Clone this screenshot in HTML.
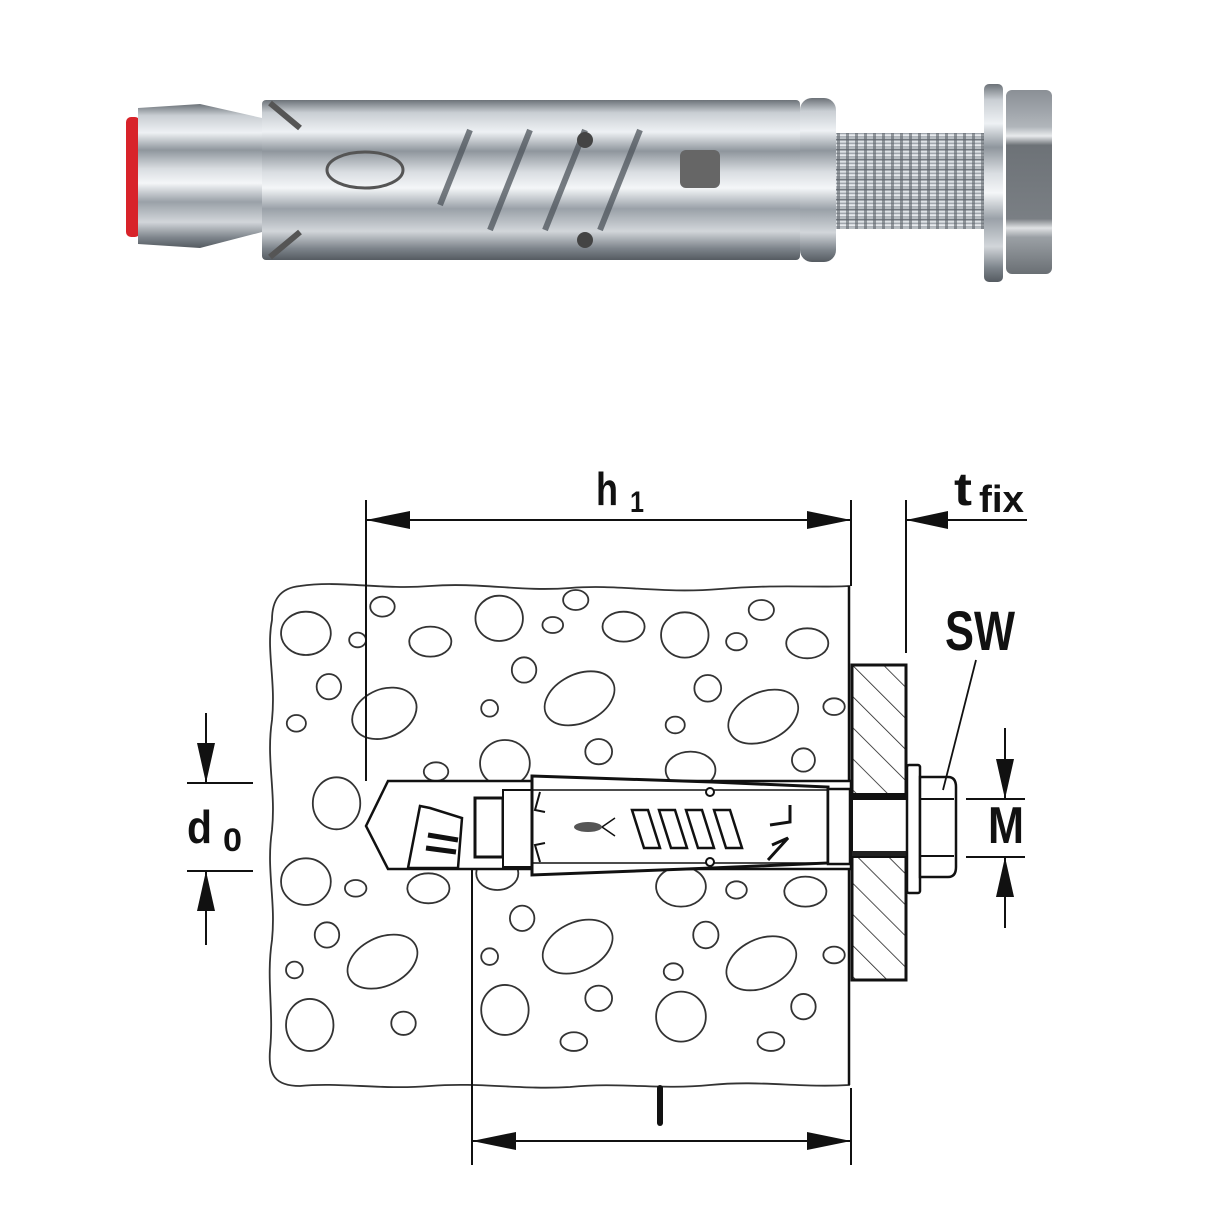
<!DOCTYPE html>
<html><head><meta charset="utf-8"><style>
html,body{margin:0;padding:0;background:#fff}
svg{display:block}
text{font-family:"Liberation Sans",sans-serif;font-weight:bold;fill:#111}
</style></head><body>
<svg width="1214" height="1214" viewBox="0 0 1214 1214" xmlns="http://www.w3.org/2000/svg">
<defs>
<linearGradient id="met" x1="0" y1="0" x2="0" y2="1">
<stop offset="0" stop-color="#6c7278"/><stop offset="0.08" stop-color="#c9ced3"/><stop offset="0.2" stop-color="#eef1f4"/><stop offset="0.32" stop-color="#8f969d"/><stop offset="0.45" stop-color="#d9dde1"/><stop offset="0.55" stop-color="#f4f6f8"/><stop offset="0.68" stop-color="#9aa1a8"/><stop offset="0.82" stop-color="#d2d6da"/><stop offset="0.93" stop-color="#7c838a"/><stop offset="1" stop-color="#555b61"/>
</linearGradient>
<linearGradient id="nut" x1="0" y1="0" x2="0" y2="1">
<stop offset="0" stop-color="#8a8f95"/><stop offset="0.2" stop-color="#b0b5ba"/><stop offset="0.25" stop-color="#e8eaec"/><stop offset="0.3" stop-color="#6d7277"/><stop offset="0.7" stop-color="#7a7f84"/><stop offset="0.75" stop-color="#e0e2e4"/><stop offset="0.8" stop-color="#9ba0a5"/><stop offset="1" stop-color="#6a6f74"/>
</linearGradient>
<pattern id="thr" width="9" height="10" patternUnits="userSpaceOnUse">
<rect width="9" height="10" fill="url(#met)"/><rect x="0" width="3" height="10" fill="#5d646b" opacity="0.6"/>
</pattern>
<pattern id="hatch" width="22" height="22" patternUnits="userSpaceOnUse" patternTransform="rotate(-45)">
<line x1="0" y1="0" x2="0" y2="22" stroke="#222" stroke-width="1.6"/>
</pattern>
</defs>

<!-- ===== PHOTO ===== -->
<rect x="126" y="117" width="14" height="120" rx="5" fill="#d8232a"/>
<path d="M138 108 L200 104 L262 118 L262 232 L200 248 L138 244 Z" fill="url(#met)"/>
<rect x="262" y="100" width="538" height="160" rx="4" fill="url(#met)"/>
<g stroke="#4d545b" stroke-width="6" fill="none" opacity="0.75">
<path d="M440 205 L470 130"/><path d="M490 230 L530 130"/><path d="M545 230 L585 130"/><path d="M600 230 L640 130"/>
</g>
<ellipse cx="365" cy="170" rx="38" ry="18" fill="none" stroke="#555" stroke-width="3"/>
<circle cx="585" cy="140" r="8" fill="#444"/><circle cx="585" cy="240" r="8" fill="#444"/>
<rect x="680" y="150" width="40" height="38" rx="6" fill="#666"/>
<path d="M270 103 L300 128 M270 257 L300 232" stroke="#555" stroke-width="6"/>
<rect x="800" y="98" width="36" height="164" rx="12" fill="url(#met)"/>
<rect x="836" y="133" width="148" height="96" fill="url(#thr)"/>
<rect x="984" y="84" width="19" height="198" rx="5" fill="url(#met)"/>
<rect x="1006" y="90" width="46" height="184" rx="6" fill="url(#nut)"/>

<!-- ===== CONCRETE ===== -->
<path d="M300 586 C340 580 380 590 430 586 C480 582 520 592 570 588 C620 584 660 594 720 589 C780 584 820 588 849 586 L849 1085 C800 1088 760 1080 710 1085 C660 1090 620 1082 570 1087 C520 1090 480 1082 430 1086 C380 1090 340 1082 300 1086 C275 1086 268 1075 270 1050 C274 1010 266 980 272 940 C276 900 266 870 272 830 C276 790 266 760 272 720 C276 680 266 650 272 620 C272 600 280 588 300 586 Z" fill="#fff" stroke="#333" stroke-width="1.8"/>
<g transform="translate(260,570) scale(0.3827,0.3333)" fill="none" stroke="#333" stroke-width="1.8">
<g style="vector-effect:non-scaling-stroke">
<ellipse vector-effect="non-scaling-stroke" cx="120" cy="190" rx="65" ry="65"/>
<ellipse vector-effect="non-scaling-stroke" cx="255" cy="210" rx="22" ry="22"/>
<ellipse vector-effect="non-scaling-stroke" cx="320" cy="110" rx="32" ry="30"/>
<ellipse vector-effect="non-scaling-stroke" cx="445" cy="215" rx="55" ry="45"/>
<ellipse vector-effect="non-scaling-stroke" cx="625" cy="145" rx="62" ry="68"/>
<ellipse vector-effect="non-scaling-stroke" cx="765" cy="165" rx="27" ry="24"/>
<ellipse vector-effect="non-scaling-stroke" cx="825" cy="90" rx="33" ry="30"/>
<ellipse vector-effect="non-scaling-stroke" cx="950" cy="170" rx="55" ry="45"/>
<ellipse vector-effect="non-scaling-stroke" cx="1110" cy="195" rx="62" ry="68"/>
<ellipse vector-effect="non-scaling-stroke" cx="1245" cy="215" rx="27" ry="26"/>
<ellipse vector-effect="non-scaling-stroke" cx="1310" cy="120" rx="33" ry="30"/>
<ellipse vector-effect="non-scaling-stroke" cx="1430" cy="220" rx="55" ry="45"/>
<ellipse vector-effect="non-scaling-stroke" cx="180" cy="350" rx="32" ry="38"/>
<ellipse vector-effect="non-scaling-stroke" cx="95" cy="460" rx="25" ry="25"/>
<ellipse vector-effect="non-scaling-stroke" cx="325" cy="430" rx="90" ry="70" transform="rotate(-35 325 430)"/>
<ellipse vector-effect="non-scaling-stroke" cx="600" cy="415" rx="22" ry="25"/>
<ellipse vector-effect="non-scaling-stroke" cx="690" cy="300" rx="32" ry="38"/>
<ellipse vector-effect="non-scaling-stroke" cx="835" cy="385" rx="100" ry="70" transform="rotate(-35 835 385)"/>
<ellipse vector-effect="non-scaling-stroke" cx="885" cy="545" rx="35" ry="38"/>
<ellipse vector-effect="non-scaling-stroke" cx="1085" cy="465" rx="25" ry="25"/>
<ellipse vector-effect="non-scaling-stroke" cx="1170" cy="355" rx="35" ry="40"/>
<ellipse vector-effect="non-scaling-stroke" cx="1315" cy="440" rx="100" ry="70" transform="rotate(-35 1315 440)"/>
<ellipse vector-effect="non-scaling-stroke" cx="1500" cy="410" rx="28" ry="25"/>
<ellipse vector-effect="non-scaling-stroke" cx="1420" cy="570" rx="30" ry="35"/>
<ellipse vector-effect="non-scaling-stroke" cx="200" cy="700" rx="62" ry="78"/>
<ellipse vector-effect="non-scaling-stroke" cx="460" cy="605" rx="32" ry="28"/>
<ellipse vector-effect="non-scaling-stroke" cx="640" cy="580" rx="65" ry="70"/>
<ellipse vector-effect="non-scaling-stroke" cx="1125" cy="600" rx="65" ry="55"/>
<ellipse vector-effect="non-scaling-stroke" cx="120" cy="935" rx="65" ry="70"/>
<ellipse vector-effect="non-scaling-stroke" cx="250" cy="955" rx="28" ry="25"/>
<ellipse vector-effect="non-scaling-stroke" cx="440" cy="955" rx="55" ry="45"/>
<ellipse vector-effect="non-scaling-stroke" cx="620" cy="910" rx="55" ry="50"/>
<ellipse vector-effect="non-scaling-stroke" cx="1100" cy="950" rx="65" ry="60"/>
<ellipse vector-effect="non-scaling-stroke" cx="1245" cy="960" rx="27" ry="26"/>
<ellipse vector-effect="non-scaling-stroke" cx="1425" cy="965" rx="55" ry="45"/>
<ellipse vector-effect="non-scaling-stroke" cx="175" cy="1095" rx="32" ry="38"/>
<ellipse vector-effect="non-scaling-stroke" cx="90" cy="1200" rx="22" ry="25"/>
<ellipse vector-effect="non-scaling-stroke" cx="320" cy="1175" rx="100" ry="70" transform="rotate(-35 320 1175)"/>
<ellipse vector-effect="non-scaling-stroke" cx="600" cy="1160" rx="22" ry="25"/>
<ellipse vector-effect="non-scaling-stroke" cx="685" cy="1045" rx="32" ry="38"/>
<ellipse vector-effect="non-scaling-stroke" cx="830" cy="1130" rx="100" ry="70" transform="rotate(-35 830 1130)"/>
<ellipse vector-effect="non-scaling-stroke" cx="885" cy="1285" rx="35" ry="38"/>
<ellipse vector-effect="non-scaling-stroke" cx="1080" cy="1205" rx="25" ry="25"/>
<ellipse vector-effect="non-scaling-stroke" cx="1165" cy="1095" rx="33" ry="40"/>
<ellipse vector-effect="non-scaling-stroke" cx="1310" cy="1180" rx="100" ry="70" transform="rotate(-35 1310 1180)"/>
<ellipse vector-effect="non-scaling-stroke" cx="1500" cy="1155" rx="28" ry="25"/>
<ellipse vector-effect="non-scaling-stroke" cx="1420" cy="1310" rx="32" ry="38"/>
<ellipse vector-effect="non-scaling-stroke" cx="130" cy="1365" rx="62" ry="78"/>
<ellipse vector-effect="non-scaling-stroke" cx="375" cy="1360" rx="32" ry="35"/>
<ellipse vector-effect="non-scaling-stroke" cx="640" cy="1320" rx="62" ry="75"/>
<ellipse vector-effect="non-scaling-stroke" cx="820" cy="1415" rx="35" ry="28"/>
<ellipse vector-effect="non-scaling-stroke" cx="1100" cy="1340" rx="65" ry="75"/>
<ellipse vector-effect="non-scaling-stroke" cx="1335" cy="1415" rx="35" ry="28"/>
</g></g>
<line x1="849" y1="586" x2="849" y2="1085" stroke="#111" stroke-width="2.5"/>

<!-- plate -->
<rect x="852" y="665" width="54" height="315" fill="url(#hatch)" stroke="#111" stroke-width="3"/>

<!-- hole -->
<path d="M388 781 L851 781 L851 869 L388 869 L366 826 Z" fill="#fff" stroke="#111" stroke-width="2.5"/>
<!-- cone -->
<path d="M408 868 L420 806 L430 808 L462 818 L458 868 Z" fill="#fff" stroke="#111" stroke-width="2.5"/>
<path d="M428 835 L458 840 M426 848 L456 852" stroke="#111" stroke-width="5"/>
<rect x="475" y="798" width="28" height="59" fill="#fff" stroke="#111" stroke-width="3"/>
<!-- sleeve -->
<rect x="503" y="790" width="29" height="77" fill="#fff" stroke="#111" stroke-width="2"/>
<path d="M532 776 L712 782 L828 787 L828 863 L712 868 L532 875 Z" fill="#fff" stroke="#111" stroke-width="3"/>
<path d="M532 790 L828 790 M532 863 L828 863" stroke="#111" stroke-width="1.5"/>
<circle cx="710" cy="792" r="4" fill="#fff" stroke="#111" stroke-width="2"/>
<circle cx="710" cy="862" r="4" fill="#fff" stroke="#111" stroke-width="2"/>
<path d="M540 792 L535 810 L545 812 M540 862 L535 845 L545 843" fill="none" stroke="#111" stroke-width="2"/>
<ellipse cx="588" cy="827" rx="14" ry="5" fill="#555"/>
<path d="M602 827 L615 818 M602 827 L615 836" stroke="#111" stroke-width="1.5"/>
<g fill="#fff" stroke="#111" stroke-width="2.5">
<path d="M632 810 L648 810 L660 848 L644 848 Z"/>
<path d="M659 810 L675 810 L687 848 L671 848 Z"/>
<path d="M686 810 L702 810 L714 848 L698 848 Z"/>
<path d="M714 810 L730 810 L742 848 L726 848 Z"/>
</g>
<path d="M770 825 L790 822 L790 805 M768 860 L788 838 L772 845" fill="none" stroke="#111" stroke-width="3"/>
<rect x="828" y="789" width="22" height="75" fill="#fff" stroke="#111" stroke-width="2.5"/>
<!-- bolt -->
<rect x="852" y="794" width="55" height="63" fill="#fff" stroke="#111" stroke-width="2"/>
<rect x="852" y="794" width="55" height="6" fill="#111"/>
<rect x="852" y="851" width="55" height="5" fill="#222"/>
<rect x="907" y="765" width="13" height="128" rx="2" fill="#fff" stroke="#111" stroke-width="2.5"/>
<path d="M920 777 L948 777 Q956 777 956 787 L956 867 Q956 877 948 877 L920 877 Z" fill="#fff" stroke="#111" stroke-width="2.5"/>
<path d="M920 799 L954 799 M920 856 L954 856" stroke="#111" stroke-width="2"/>

<!-- dimension lines -->
<g stroke="#111" stroke-width="2" fill="#111">
<line x1="366" y1="500" x2="366" y2="781"/>
<line x1="851" y1="500" x2="851" y2="586"/>
<line x1="906" y1="500" x2="906" y2="653"/>
<line x1="366" y1="520" x2="851" y2="520"/>
<polygon points="366,520 410,511 410,529" stroke="none"/>
<polygon points="851,520 807,511 807,529" stroke="none"/>
<line x1="906" y1="520" x2="1027" y2="520"/>
<polygon points="906,520 948,511 948,529" stroke="none"/>

<line x1="187" y1="783" x2="253" y2="783"/>
<line x1="187" y1="871" x2="253" y2="871"/>
<line x1="206" y1="713" x2="206" y2="783"/>
<line x1="206" y1="871" x2="206" y2="945"/>
<polygon points="206,783 197,743 215,743" stroke="none"/>
<polygon points="206,871 197,911 215,911" stroke="none"/>

<line x1="966" y1="799" x2="1025" y2="799"/>
<line x1="966" y1="857" x2="1025" y2="857"/>
<line x1="1005" y1="728" x2="1005" y2="799"/>
<line x1="1005" y1="857" x2="1005" y2="928"/>
<polygon points="1005,799 996,759 1014,759" stroke="none"/>
<polygon points="1005,857 996,897 1014,897" stroke="none"/>

<line x1="472" y1="869" x2="472" y2="1165"/>
<line x1="851" y1="1088" x2="851" y2="1165"/>
<line x1="472" y1="1141" x2="851" y2="1141"/>
<polygon points="472,1141 516,1132 516,1150" stroke="none"/>
<polygon points="851,1141 807,1132 807,1150" stroke="none"/>

<line x1="976" y1="660" x2="943" y2="790" stroke-width="1.8"/>
</g>

<!-- labels -->
<text x="596" y="505" font-size="46" textLength="22" lengthAdjust="spacingAndGlyphs">h</text>
<text x="630" y="512" font-size="30" textLength="14" lengthAdjust="spacingAndGlyphs">1</text>
<text x="954" y="505" font-size="46" textLength="18" lengthAdjust="spacingAndGlyphs">t</text>
<text x="979" y="512" font-size="38" textLength="45" lengthAdjust="spacingAndGlyphs">fix</text>
<text x="945" y="650" font-size="56" textLength="70" lengthAdjust="spacingAndGlyphs">SW</text>
<text x="187" y="843" font-size="46" textLength="25" lengthAdjust="spacingAndGlyphs">d</text>
<text x="223" y="851" font-size="32" textLength="19" lengthAdjust="spacingAndGlyphs">0</text>
<text x="988" y="843" font-size="52" textLength="36" lengthAdjust="spacingAndGlyphs">M</text>
<rect x="657" y="1085" width="6" height="41" rx="3" fill="#111"/>
</svg>
</body></html>
